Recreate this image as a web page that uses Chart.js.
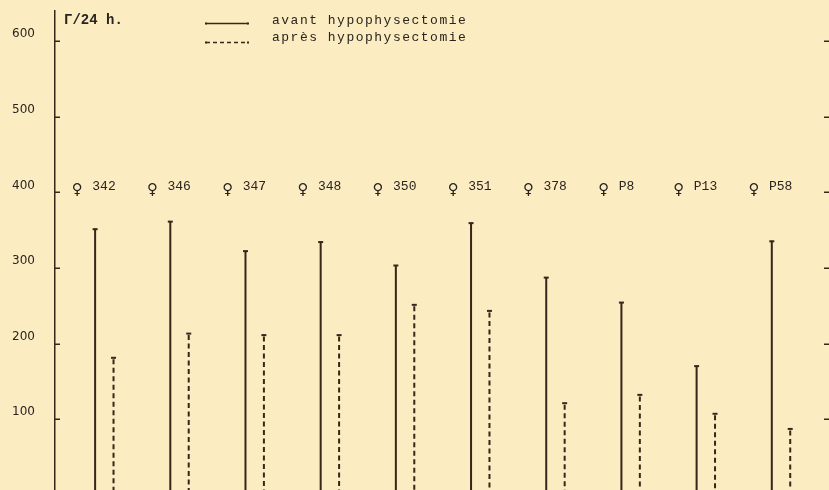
<!DOCTYPE html>
<html><head><meta charset="utf-8">
<script src="https://cdn.jsdelivr.net/npm/chart.js@4/dist/chart.umd.min.js"></script>
<style>
html,body{margin:0;padding:0;background:#fbecc2;overflow:hidden;}
#wrap{position:relative;width:829px;height:495px;}
</style></head><body>
<div id="wrap"><canvas id="c"></canvas></div>
<script>
// ---- data ----
const animals = ['342','346','347','348','350','351','378','P8','P13','P58'];
const avant = [352,362,323,335,304,360,288,255,171,336];   // avant hypophysectomie
const apres = [182,214,212,212,252,244,122,133,108,88];    // après hypophysectomie
const yTicks = [100,200,300,400,500,600];
const yUnit = 'Γ/24 h.';
const seriesNames = ['avant hypophysectomie','après hypophysectomie'];

const ink = '#3b2419';
const textInk = '#2a2420';

const overlay = {
  id: 'overlay',
  afterDatasetsDraw(chart) {
    const {ctx, chartArea, scales: {x, y}} = chart;
    ctx.save();
    ctx.strokeStyle = ink; ctx.fillStyle = ink;
    // dashed bars (après)
    chart.getDatasetMeta(1).data.forEach(el => {
      ctx.lineWidth = 2; ctx.setLineDash([5, 3.5]);
      ctx.beginPath(); ctx.moveTo(el.x, el.y + 2); ctx.lineTo(el.x, el.base); ctx.stroke();
    });
    ctx.setLineDash([]);
    // T caps
    [0, 1].forEach(d => chart.getDatasetMeta(d).data.forEach(el => {
      ctx.lineWidth = 2;
      ctx.beginPath(); ctx.moveTo(el.x - 2.5, el.y + 0.5); ctx.lineTo(el.x + 2.5, el.y + 0.5); ctx.stroke();
    }));
    // inward tick marks, left and right
    ctx.lineWidth = 1.5;
    yTicks.forEach(v => {
      const py = Math.round(y.getPixelForValue(v)) + 0.25;
      ctx.beginPath(); ctx.moveTo(chartArea.left, py); ctx.lineTo(chartArea.left + 5, py); ctx.stroke();
      ctx.beginPath(); ctx.moveTo(chart.width, py); ctx.lineTo(chart.width - 5, py); ctx.stroke();
    });
    // animal labels
    ctx.fillStyle = textInk;
    ctx.textBaseline = 'middle';
    animals.forEach((a, i) => {
      const px = x.getPixelForValue(i);
      ctx.font = '15px "DejaVu Sans"'; ctx.textAlign = 'center';
      ctx.fillText('♀', px - 27, 190);
      ctx.font = '13px "Liberation Mono"'; ctx.textAlign = 'left';
      ctx.fillText(a, px - 12, 187);
    });
    // unit label
    ctx.textAlign = 'left';
    ctx.font = 'bold 14px "Liberation Mono"';
    ctx.fillText(yUnit, chartArea.left + 9, 20);
    // legend
    ctx.strokeStyle = ink; ctx.lineWidth = 1.5;
    ctx.beginPath(); ctx.moveTo(206, 23.5); ctx.lineTo(248, 23.5); ctx.stroke();
    ctx.setLineDash([4, 3]);
    ctx.beginPath(); ctx.moveTo(206, 42.5); ctx.lineTo(248, 42.5); ctx.stroke();
    ctx.setLineDash([]);
    ctx.fillStyle = ink;
    [206, 248].forEach(lx => { [23.5, 42.5].forEach(ly => { ctx.fillRect(lx - 1, ly - 1, 2, 2); }); });
    ctx.fillStyle = textInk;
    ctx.font = '13px "Liberation Mono"';
    try { ctx.letterSpacing = '1.5px'; } catch (e) {}
    ctx.fillText(seriesNames[0], 272, 20.5);
    ctx.fillText(seriesNames[1], 272, 37.5);
    ctx.restore();
  }
};

new Chart(document.getElementById('c'), {
  type: 'bar',
  data: {
    datasets: [
      { label: seriesNames[0], data: avant.map((v, i) => ({x: i, y: v})), backgroundColor: ink, borderWidth: 0 },
      { label: seriesNames[1], data: apres.map((v, i) => ({x: i, y: v})), backgroundColor: 'rgba(0,0,0,0)', borderWidth: 0 }
    ]
  },
  options: {
    responsive: true, maintainAspectRatio: false, animation: false, devicePixelRatio: 1,
    layout: { autoPadding: false, padding: { left: 0, right: 1, top: 10.8, bottom: 0 } },
    datasets: { bar: { categoryPercentage: 0.49, barPercentage: 0.109 } },
    plugins: { legend: { display: false }, tooltip: { enabled: false } },
    scales: {
      x: {
        type: 'linear', min: -0.656, max: 9.625, offset: false, display: false,
        afterBuildTicks: s => { s.ticks = animals.map((_, i) => ({value: i})); }
      },
      y: {
        min: 0, max: 640,
        afterFit: s => { s.width = 55; s.paddingTop = 0; s.paddingBottom = 0; },
        afterBuildTicks: s => { s.ticks = yTicks.map(v => ({value: v})); },
        grid: { display: false, drawTicks: false },
        border: { display: true, color: ink, width: 1.5 },
        ticks: { padding: 20, labelOffset: -7, color: textInk, font: { family: '"DejaVu Sans", sans-serif', size: 12 } }
      }
    }
  },
  plugins: [overlay]
});
</script>
</body></html>
